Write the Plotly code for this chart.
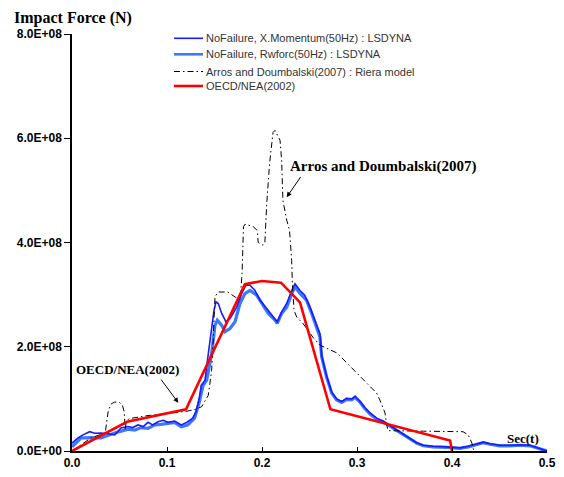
import plotly.graph_objects as go

# ---- data (x in seconds, y in 1e8 N) ----
xm_t = [0, 0.0063, 0.0116, 0.0186, 0.024, 0.0305, 0.038, 0.045, 0.0516, 0.059, 0.064, 0.0695,
        0.075, 0.080, 0.085, 0.0905, 0.096, 0.101, 0.108, 0.115, 0.120, 0.127, 0.1305, 0.134,
        0.136, 0.140, 0.1435, 0.147, 0.1495, 0.1516, 0.154, 0.1576, 0.162, 0.1663, 0.1734,
        0.1786, 0.183, 0.1874, 0.1926, 0.198, 0.205, 0.212, 0.216, 0.2207, 0.226, 0.2313,
        0.2347, 0.240, 0.245, 0.2505, 0.2558, 0.261, 0.2628, 0.268, 0.2734, 0.2786, 0.2839,
        0.289, 0.2944, 0.298, 0.303, 0.308, 0.3137, 0.3207, 0.3277, 0.333, 0.3418, 0.3523,
        0.3628, 0.3698, 0.380, 0.3944, 0.4084, 0.417, 0.426, 0.433, 0.440, 0.4505, 0.461,
        0.4716, 0.482, 0.4926, 0.5]
xm_f = [0.15, 0.25, 0.31, 0.37, 0.34, 0.345, 0.33, 0.31, 0.44, 0.47, 0.45, 0.50,
        0.47, 0.55, 0.50, 0.56, 0.59, 0.55, 0.575, 0.50, 0.54, 0.63, 0.75, 1.02,
        1.26, 1.36, 1.87, 2.32, 2.70, 2.86, 2.83, 2.64, 2.48, 2.54, 2.76,
        3.02, 3.18, 3.18, 3.08, 2.89, 2.73, 2.57, 2.48, 2.67, 2.83, 3.08,
        3.21, 3.08, 2.99, 2.76, 2.51, 2.25, 1.83, 1.44, 1.13, 1.0, 0.95,
        1.01, 1.0, 1.05, 0.96, 0.84, 0.73, 0.63, 0.57, 0.51, 0.41, 0.28,
        0.16, 0.11, 0.09, 0.08, 0.06, 0.09, 0.14, 0.17, 0.14, 0.11, 0.11,
        0.12, 0.11, 0.05, 0.0]

rw_t = [0, 0.0095, 0.020, 0.0305, 0.045, 0.0516, 0.059, 0.066, 0.0726, 0.080, 0.087, 0.0937,
        0.101, 0.108, 0.115, 0.122, 0.129, 0.134, 0.138, 0.1418, 0.147, 0.1505, 0.153, 0.1576,
        0.161, 0.1663, 0.1716, 0.1768, 0.182, 0.1874, 0.1944, 0.1997, 0.2066, 0.2137, 0.216,
        0.2207, 0.226, 0.2313, 0.2347, 0.240, 0.247, 0.2523, 0.2576, 0.261, 0.2628, 0.268,
        0.2734, 0.2786, 0.2839, 0.289, 0.2944, 0.298, 0.303, 0.308, 0.3137, 0.3207, 0.3277,
        0.333, 0.3418, 0.3523, 0.3628, 0.3698, 0.380, 0.3944, 0.4084, 0.417, 0.426, 0.433,
        0.440, 0.4505, 0.461, 0.4716, 0.482, 0.4926, 0.5]
rw_f = [0.08, 0.25, 0.255, 0.25, 0.345, 0.38, 0.42, 0.40, 0.45, 0.435, 0.50, 0.51,
        0.53, 0.55, 0.465, 0.50, 0.63, 0.94, 1.26, 1.36, 1.87, 2.41, 2.51, 2.41,
        2.29, 2.35, 2.48, 2.83, 3.02, 3.08, 2.99, 2.83, 2.64, 2.51, 2.45,
        2.64, 2.76, 3.02, 3.15, 3.02, 2.89, 2.64, 2.38, 2.19, 1.81, 1.42,
        1.11, 0.98, 0.93, 0.99, 0.98, 1.03, 0.94, 0.82, 0.71, 0.61, 0.56,
        0.50, 0.40, 0.27, 0.15, 0.10, 0.08, 0.07, 0.05, 0.08, 0.13, 0.16,
        0.13, 0.10, 0.10, 0.11, 0.10, 0.04, 0.0]

riera_t = [0, 0.02, 0.035, 0.038, 0.041, 0.045, 0.05, 0.053, 0.055, 0.056, 0.057, 0.06,
           0.08, 0.1, 0.12, 0.13, 0.1365, 0.1435, 0.147, 0.1488, 0.1505, 0.154, 0.164,
           0.172, 0.177, 0.179, 0.1805, 0.182, 0.1905, 0.195, 0.196, 0.201, 0.203, 0.205,
           0.208, 0.2116, 0.2137, 0.219, 0.2207, 0.222, 0.226, 0.229, 0.2312, 0.232, 0.2337,
           0.2365, 0.243, 0.2537, 0.261, 0.279, 0.300, 0.3137, 0.3207, 0.324, 0.3295, 0.331,
           0.3326, 0.37, 0.4116, 0.417, 0.421, 0.423]
riera_f = [0, 0.25, 0.35, 0.75, 0.9, 0.94, 0.93, 0.88, 0.75, 0.4, 0.55, 0.62,
           0.68, 0.72, 0.76, 0.8, 0.85, 1.07, 1.55, 2.19, 2.96, 3.05, 3.05,
           2.95, 2.9, 3.4, 4.3, 4.35, 4.31, 4.23, 4.0, 3.95, 4.0, 4.75,
           5.52, 6.11, 6.15, 5.96, 5.57, 4.81, 4.43, 4.23, 3.66, 3.22, 2.70,
           2.57, 2.45, 2.18, 2.03, 1.88, 1.49, 1.23, 1.11, 0.98, 0.73, 0.53,
           0.39, 0.38, 0.37, 0.31, 0.15, 0.0]

oecd_t = [0, 0.058, 0.12, 0.182, 0.2, 0.22, 0.24, 0.272, 0.398, 0.4]
oecd_f = [0, 0.56, 0.8, 3.2, 3.26, 3.23, 2.85, 0.8, 0.2, 0.0]

names = ["NoFailure, X.Momentum(50Hz) : LSDYNA",
         "NoFailure, Rwforc(50Hz) : LSDYNA",
         "Arros and Doumbalski(2007) : Riera model",
         "OECD/NEA(2002)"]

x_ticks = [0.0, 0.1, 0.2, 0.3, 0.4, 0.5]
y_ticks = [0, 2e8, 4e8, 6e8, 8e8]
y_ticktext = ["0.0E+00", "2.0E+08", "4.0E+08", "6.0E+08", "8.0E+08"]

S = 1e8
colors = ["#1a1aff", "#3c78ff", "black", "#ff0000"]
widths = [1.6, 3.2, 1, 2.6]
dashes = ["solid", "solid", "6px,3px,1.5px,3px", "solid"]
series = [(xm_t, xm_f), (rw_t, rw_f), (riera_t, riera_f), (oecd_t, oecd_f)]
draw_order = [1, 0, 2, 3]

fig = go.Figure()
for i in draw_order:
    t, f = series[i]
    fig.add_trace(go.Scatter(x=t, y=[v * S for v in f], mode="lines", name=names[i],
                             showlegend=False,
                             line=dict(color=colors[i], width=widths[i], dash=dashes[i])))

serif = "Liberation Serif, Times New Roman, serif"
sans = "Liberation Sans, Arial, sans-serif"

# plot area in screen pixels (page has an 8px body margin)
PL, PT, PW, PH = 72, 34, 475, 417
def px(xp):
    return (xp - PL) / PW
def py(yp):
    return (PT + PH - yp) / PH

legend_rows = [38.3, 54.3, 71.5, 86.0]
shapes = []
annotations = []
for i, yr in enumerate(legend_rows):
    shapes.append(dict(type="line", xref="paper", yref="paper",
                       x0=px(174), x1=px(203), y0=py(yr), y1=py(yr),
                       line=dict(color=colors[i], width=min(widths[i], 2.6) if i != 2 else 1,
                                 dash=dashes[i])))
    annotations.append(dict(text=names[i], xref="paper", yref="paper",
                            x=px(204), y=py(yr), xanchor="left", yanchor="middle",
                            showarrow=False,
                            font=dict(family=sans, size=11, color="#333333")))

annotations += [
    dict(text="<b>Impact Force (N)</b>", xref="paper", yref="paper",
         x=px(12), y=py(17.5), xanchor="left", yanchor="middle",
         showarrow=False, font=dict(family=serif, size=16, color="black")),
    dict(text="<b>Arros and Doumbalski(2007)</b>", xref="paper", yref="paper",
         x=px(288), y=py(166), xanchor="left", yanchor="middle",
         showarrow=False, font=dict(family=serif, size=15, color="black")),
    dict(text="", x=0.226, y=4.87e8, ax=301.7 - 286.7, ay=175 - 196.7,
         showarrow=True, arrowhead=2, arrowsize=1, arrowwidth=1, arrowcolor="black",
         standoff=0),
    dict(text="<b>OECD/NEA(2002)</b>", xref="paper", yref="paper",
         x=px(127), y=py(369), xanchor="center", yanchor="middle",
         showarrow=False, font=dict(family=serif, size=13, color="black")),
    dict(text="", x=0.1119, y=0.925e8, ax=160 - 178.3, ay=378 - 402.7,
         showarrow=True, arrowhead=2, arrowsize=1, arrowwidth=1, arrowcolor="black",
         standoff=0),
    dict(text="<b>Sec(t)</b>", xref="paper", yref="paper",
         x=px(541), y=py(438), xanchor="right", yanchor="middle",
         showarrow=False, font=dict(family=serif, size=13, color="black")),
]

fig.update_layout(
    width=564, height=477,
    margin=dict(l=64, r=25, t=26, b=34),
    paper_bgcolor="white", plot_bgcolor="white",
    showlegend=False,
    xaxis=dict(range=[0, 0.5], tickvals=x_ticks, tickformat=".1f", automargin=False,
               showgrid=False, zeroline=False, showline=True, linecolor="black",
               linewidth=1.5, ticks="inside", ticklen=4, tickcolor="black",
               tickfont=dict(family=sans, size=12, color="black", weight="bold")),
    yaxis=dict(range=[0, 8e8], tickvals=y_ticks, ticktext=y_ticktext, automargin=False,
               showgrid=False, zeroline=False, showline=True, linecolor="black",
               linewidth=1.5, ticks="outside", ticklen=6, tickcolor="black",
               tickfont=dict(family=sans, size=12, color="black", weight="bold")),
    shapes=shapes,
    annotations=annotations,
)

fig.write_html("out.html")
